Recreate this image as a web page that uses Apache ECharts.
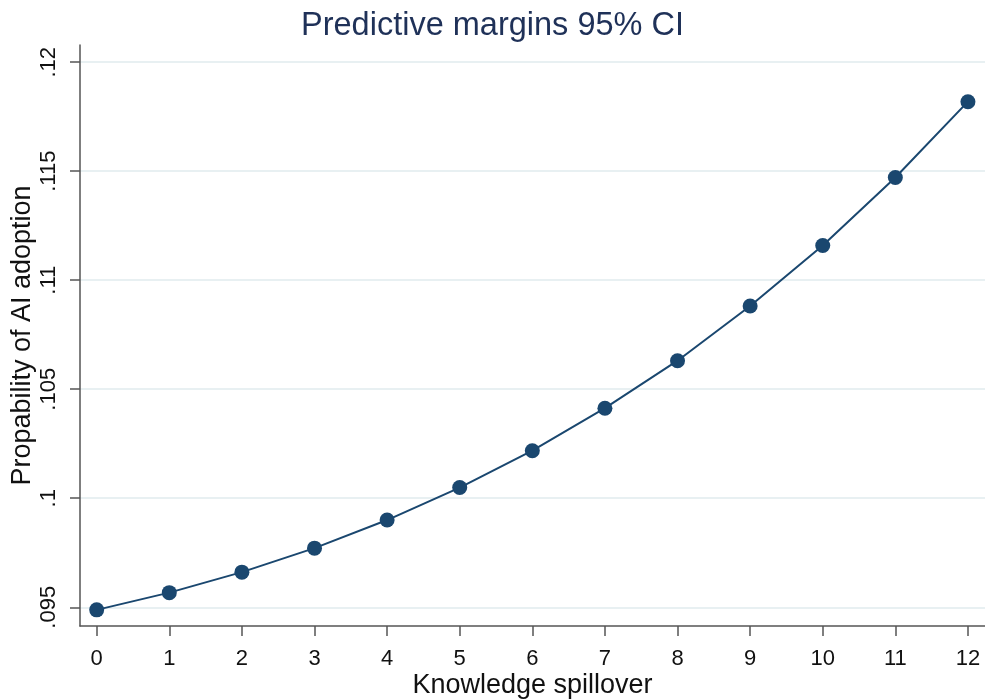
<!doctype html>
<html>
<head>
<meta charset="UTF-8">
<title>Predictive margins 95% CI</title>
<script src="https://cdn.jsdelivr.net/npm/echarts@6/dist/echarts.min.js"></script>
<style>
  html, body { margin: 0; padding: 0; background: #fff; }
  #main { width: 985px; height: 700px; }
</style>
</head>
<body>
<div id="main"></div>
<script>
// knowledge spillover levels
var spillover = [0, 1, 2, 3, 4, 5, 6, 7, 8, 9, 10, 11, 12];
// predicted probability of AI adoption
var probability = [0.09488, 0.09567, 0.09661, 0.09771, 0.09900, 0.10049, 0.10218,
                   0.10413, 0.10631, 0.10882, 0.11159, 0.11471, 0.11819];
var yTicks = [0.095, 0.1, 0.105, 0.11, 0.115, 0.12];
var yTickLabels = ['.095', '.1', '.105', '.11', '.115', '.12'];

var navy = '#1a476f';
var font = 'Liberation Sans, Arial, sans-serif';

var chart = echarts.init(document.getElementById('main'));

var points = spillover.map(function (x, i) { return [x, probability[i]]; });

var option = {
  backgroundColor: '#fff',
  animation: false,
  title: {
    text: 'Predictive margins 95% CI',
    left: 'center',
    top: 5,
    textStyle: { fontFamily: font, fontSize: 32.5, fontWeight: 'normal', color: '#1f3158' }
  },
  grid: { left: 80, right: 0, top: 45, bottom: 74, containLabel: false, outerBoundsMode: 'none' },
  xAxis: {
    type: 'value',
    min: -0.23,
    max: 12.235,
    name: 'Knowledge spillover',
    nameLocation: 'middle',
    nameGap: 46,
    nameMoveOverlap: false,
    nameTextStyle: { fontFamily: font, fontSize: 27, color: '#111' },
    axisLine: { show: true, onZero: false, lineStyle: { color: '#555', width: 1.5 } },
    axisTick: { show: true, length: 10, lineStyle: { color: '#555', width: 1.5 }, customValues: spillover },
    axisLabel: { fontFamily: font, fontSize: 22, color: '#111', margin: 22, customValues: spillover },
    splitLine: { show: false }
  },
  yAxis: {
    type: 'value',
    min: 0.09414,
    max: 0.12079,
    name: 'Propability of AI adoption',
    nameLocation: 'middle',
    nameGap: 44,
    nameMoveOverlap: false,
    nameRotate: 90,
    nameTextStyle: { fontFamily: font, fontSize: 27, color: '#111' },
    axisLine: { show: true, onZero: false, lineStyle: { color: '#555', width: 1.5 } },
    axisTick: { show: true, length: 10, lineStyle: { color: '#555', width: 1.5 }, customValues: yTicks },
    axisLabel: {
      fontFamily: font, fontSize: 22, color: '#111', margin: 20, rotate: 90,
      customValues: yTicks,
      formatter: function (v) {
        var i = yTicks.findIndex(function (t) { return Math.abs(t - v) < 1e-7; });
        return i >= 0 ? yTickLabels[i] : '';
      }
    },
    splitLine: { show: true, lineStyle: { color: '#e8f0f2', width: 2 } }
  },
  series: [{
    type: 'line',
    data: points,
    symbol: 'circle',
    symbolSize: 15,
    lineStyle: { color: navy, width: 2 },
    itemStyle: { color: navy }
  }]
};

chart.setOption(option);
</script>
</body>
</html>
